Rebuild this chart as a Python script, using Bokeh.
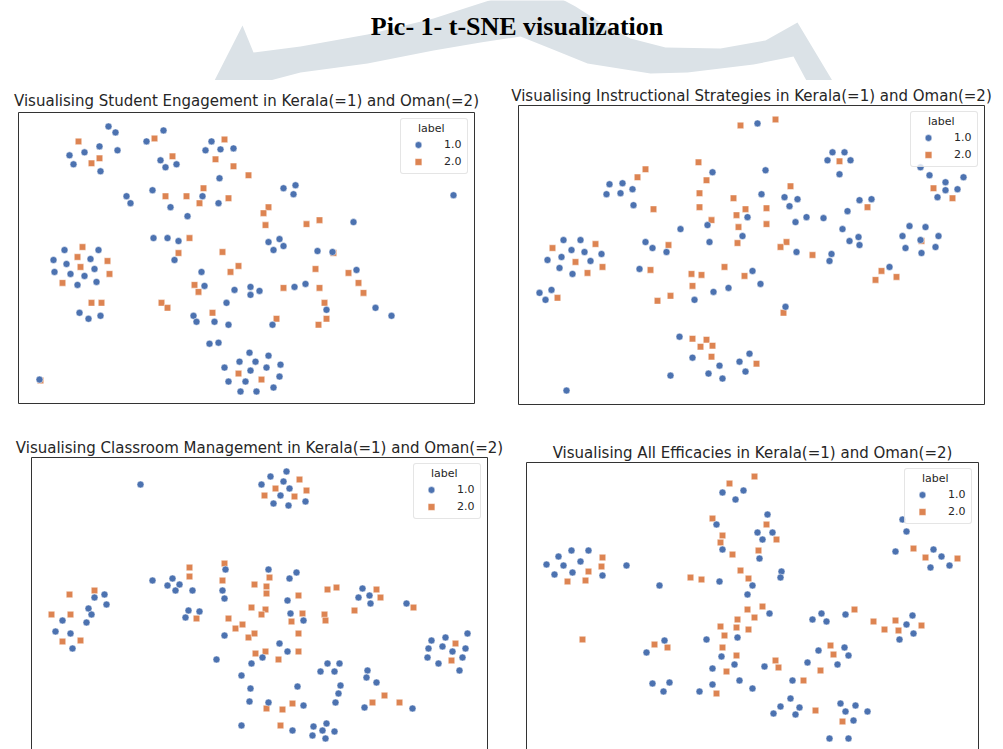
from bokeh.plotting import figure
from bokeh.models import Range1d, Legend, LegendItem, Label, LinearAxis, FixedTicker, Spacer
from bokeh.layouts import column, row
from bokeh.embed import file_html
from bokeh.resources import INLINE

MAIN_TITLE = "Pic- 1- t-SNE visualization"
LEGEND_TITLE = "label"
CLASS_LABELS = ["1.0", "2.0"]

# ---------------- Panel 1: Student Engagement ----------------
P1_TITLE = "Visualising Student Engagement in Kerala(=1) and Oman(=2)"
P1_KERALA_X = [90, 97, 81, 66, 99, 51, 55, 82, 145, 128, 142, 147, 158, 193, 187, 202, 215, 201,
               108, 112, 134, 152, 169, 184, 200, 135, 149, 160, 156, 46, 80, 35, 48, 72, 36, 52, 66, 76, 59, 78,
               61, 70, 82, 183, 186, 216, 208, 175, 178, 196, 210, 191, 200, 221, 206, 210, 222, 21,
               265, 277, 275, 435, 335, 250, 261, 255, 265, 299, 314, 338, 232, 232, 241, 276, 287, 308, 357, 373, 254,
               231, 250, 237, 262, 232, 248, 261, 227, 238, 255]
P1_KERALA_Y = [278, 272, 258, 252, 254, 249, 240, 233, 274, 263, 244, 237, 240, 263, 254, 255, 256, 226,
               208, 201, 214, 197, 188, 208, 201, 166, 166, 163, 144, 154, 154, 144, 140, 145, 132, 130, 128, 135, 119, 122,
               91, 85, 88, 132, 118, 114, 101, 88, 82, 82, 79, 60, 61, 42, 36, 22, 12, 24,
               216, 219, 210, 209, 182, 162, 165, 154, 158, 153, 152, 134, 117, 109, 113, 117, 120, 94, 96, 88, 79,
               51, 48, 42, 39, 33, 36, 27, 22, 12, 16]
P1_OMAN_X = [60, 81, 73, 136, 154, 206, 197, 215, 185, 147, 168, 181, 210, 171, 160, 204, 220, 212, 64, 59, 89, 62,
             91, 44, 73, 83, 176, 180, 143, 149, 194, 220, 22,
             230, 250, 245, 247, 288, 301, 297, 330, 340, 345, 265, 301, 306, 308, 300, 258, 243, 315]
P1_OMAN_Y = [263, 246, 241, 266, 248, 265, 245, 238, 216, 208, 208, 201, 206, 166, 151, 152, 138, 132, 157, 147, 143, 137,
             130, 121, 101, 101, 119, 112, 101, 96, 91, 30, 23,
             229, 197, 191, 179, 180, 184, 135, 131, 121, 111, 116, 116, 101, 85, 79, 85, 24, 151]

# ---------------- Panel 2: Instructional Strategies ----------------
P2_TITLE = "Visualising Instructional Strategies in Kerala(=1) and Oman(=2)"
P2_KERALA_X = [194, 91, 104, 88, 102, 114, 115, 162, 189, 224, 191, 127, 134, 148, 45, 62, 53, 66, 83, 43, 29, 72, 41, 54,
               121, 195, 210, 176, 21, 33, 27, 161, 174, 201, 190, 204, 152, 221, 227, 48,
               239, 314, 326, 309, 332, 321, 247, 243, 266, 279, 271, 229, 277, 288, 305, 329, 341, 353, 324, 331, 340, 341,
               278, 313, 311, 234, 242, 371, 391, 407, 384, 402, 420, 387, 403, 417, 402, 411, 427, 445, 427, 439, 419,
               267, 231]
P2_KERALA_Y = [233, 221, 222, 211, 212, 216, 200, 176, 180, 169, 163, 163, 157, 153, 165, 165, 155, 153, 151, 148, 145, 144,
               137, 131, 136, 113, 117, 105, 112, 115, 105, 68, 47, 39, 31, 26, 29, 43, 33, 14,
               282, 253, 253, 245, 245, 231, 235, 211, 208, 206, 199, 188, 183, 188, 187, 194, 205, 206, 176, 164, 168, 160,
               153, 151, 144, 134, 121, 138, 179, 178, 169, 165, 169, 157, 152, 158, 238, 230, 223, 228, 215, 216, 208,
               98, 51]
P2_OMAN_X = [222, 180, 127, 119, 188, 181, 135, 181, 193, 215, 227, 218, 220, 219, 150, 34, 77, 57, 84, 69, 39, 132, 173,
             183, 206, 226, 174, 152, 139, 174, 188, 182, 194, 193,
             257, 321, 272, 248, 248, 349, 268, 262, 294, 363, 357, 378, 403, 415, 434, 265, 238]
P2_OMAN_Y = [280, 243, 236, 228, 225, 212, 196, 198, 185, 207, 196, 190, 178, 162, 160, 157, 161, 143, 138, 132, 107, 135, 131,
             130, 138, 129, 119, 109, 104, 66, 65, 58, 59, 48,
             286, 244, 219, 197, 181, 198, 163, 158, 150, 134, 125, 128, 164, 217, 207, 92, 41]

# ---------------- Panel 3: Classroom Management ----------------
P3_TITLE = "Visualising Classroom Management in Kerala(=1) and Oman(=2)"
P3_KERALA_X = [109, 121, 141, 136, 148, 144, 161, 157, 154, 168, 194, 191, 193, 193, 185, 220, 210, 219, 218, 210,
               73, 63, 75, 57, 60, 55, 31, 24, 39, 41,
               255, 239, 252, 230, 258, 249, 242, 257, 274,
               237, 265, 258, 256, 259, 272, 331, 327, 338, 339, 375, 248, 256, 231, 296, 308, 289, 303, 336, 335, 345,
               309, 307, 304, 266, 237, 272, 333, 381, 261, 282, 295, 303, 281, 291, 294,
               436, 414, 400, 411, 397, 421, 434, 396, 407, 431, 428]
P3_KERALA_Y = [265, 169, 171, 164, 165, 159, 159, 139, 132, 138, 180, 159, 151, 114, 90, 86, 74, 61, 48, 24,
               155, 152, 145, 141, 135, 127, 129, 118, 116, 101,
               278, 273, 268, 265, 261, 254, 246, 244, 248,
               180, 177, 171, 149, 136, 129, 161, 152, 154, 146, 146, 106, 98, 92, 86, 86, 78, 78, 79, 72, 67,
               64, 56, 47, 63, 47, 44, 42, 41, 19, 23, 26, 18, 14, 19, 11,
               116, 112, 109, 103, 101, 98, 101, 92, 86, 92, 79]
P3_OMAN_X = [38, 63, 20, 39, 31, 49, 158, 158, 165, 193, 191, 223, 220, 197, 204, 211, 217, 223, 224,
             268, 244, 233, 263, 275, 238, 235, 235, 267, 234, 230, 271, 260, 293, 294, 267, 296, 305, 345, 349, 323, 382,
             234, 267, 247, 261, 251, 235, 341, 353, 368, 249, 424, 420]
P3_OMAN_Y = [155, 159, 135, 135, 108, 109, 182, 173, 131, 186, 169, 165, 142, 131, 121, 125, 112, 116, 96,
             270, 261, 254, 253, 259, 172, 163, 156, 154, 140, 135, 136, 128, 135, 129, 116, 160, 162, 160, 152, 139, 142,
             98, 98, 90, 46, 40, 41, 47, 54, 47, 24, 106, 89]

# ---------------- Panel 4: All Efficacies ----------------
P4_TITLE = "Visualising All Efficacies in Kerala(=1) and Oman(=2)"
P4_KERALA_X = [196, 217, 209, 190, 196, 45, 62, 32, 54, 20, 37, 100, 28, 46, 76, 193, 133, 221, 138, 120, 180, 211, 195,
               208, 186, 126, 143, 137, 173, 186, 213,
               241, 231, 236, 246, 233, 255, 254, 226, 243, 286, 295, 300, 319, 376, 380, 369, 407, 415, 404, 423,
               386, 380, 387, 373, 292, 318, 322, 311, 281, 266, 238, 226, 264, 254, 273, 247, 269, 314, 329, 319, 341,
               327, 303, 322]
P4_KERALA_Y = [257, 259, 250, 225, 200, 199, 199, 193, 188, 185, 184, 184, 175, 177, 174, 168, 164, 155, 109, 97, 110, 112, 93,
               85, 81, 66, 67, 58, 58, 65, 69,
               235, 217, 210, 217, 191, 178, 172, 164, 136, 130, 136, 128, 135, 230, 218, 198, 200, 193, 182, 184,
               134, 125, 116, 110, 99, 102, 94, 85, 87, 69, 83, 61, 51, 43, 42, 36, 35, 46, 44, 38, 38,
               29, 11, 11]
P4_OMAN_X = [203, 186, 196, 194, 206, 76, 75, 62, 41, 59, 164, 175, 214, 222, 221, 211, 194, 210, 222, 198, 196, 210, 200,
             190, 56, 128, 141,
             228, 240, 250, 232, 236, 228, 328, 347, 358, 369, 372, 395, 387, 399, 431, 304, 307, 294, 277, 289, 316,
             249, 252]
P4_OMAN_Y = [266, 231, 214, 207, 195, 192, 183, 178, 168, 169, 172, 170, 179, 171, 140, 130, 123, 122, 120, 114, 102, 94, 78,
             56, 110, 105, 102,
             273, 225, 210, 199, 143, 132, 140, 128, 120, 129, 119, 124, 201, 192, 191, 104, 95, 79, 69, 39, 28,
             89, 82]

# faded logo watermark (arch) behind the page heading, page pixel outline
WATERMARK_X = [213, 242, 253, 300, 367, 433, 470, 495, 560, 575, 600, 630, 665, 720, 765, 797, 833,
               807, 793, 753, 687, 650, 587, 550, 520, 480, 433, 367, 300, 262]
WATERMARK_Y = [82, 25, 52, 46, 34, 18, 6, -2, -2, 6, 22, 38, 47, 48, 40, 22, 82,
               82, 56, 64, 72, 73, 63, 48, 36, 42, 50, 63, 72, 82]

BLUE = "#4c72b0"
ORANGE = "#dd8452"
BORDER = "#333333"
TEXT = "#262626"

# common frame borders (equal for every panel so layout alignment is harmless)
BL, BR = 18, 19


def border_axis():
    return LinearAxis(ticker=FixedTicker(ticks=[]), axis_line_color=BORDER, axis_line_width=1,
                      major_tick_line_color=None, minor_tick_line_color=None,
                      major_tick_in=0, major_tick_out=0, minor_tick_in=0, minor_tick_out=0,
                      major_label_text_font_size="0px", major_label_standoff=0)


def make_panel(title, kx, ky, ox, oy, xr, yr, width, height, top, bottom, standoff, open_bottom):
    p = figure(width=width, height=height, x_range=Range1d(*xr), y_range=Range1d(*yr),
               output_backend="svg", toolbar_location=None,
               x_axis_location=None, y_axis_location=None,
               min_border_left=BL, min_border_right=BR,
               min_border_top=top, min_border_bottom=bottom)
    p.grid.visible = False
    p.background_fill_color = "white"
    p.border_fill_color = "white"
    p.title.text = title
    p.title.align = "center"
    p.title.text_font = "DejaVu Sans"
    p.title.text_font_size = "15px"
    p.title.text_font_style = "normal"
    p.title.text_color = TEXT
    p.title.standoff = standoff
    if open_bottom:
        p.outline_line_color = None
        p.add_layout(border_axis(), "above")
        p.add_layout(border_axis(), "left")
        p.add_layout(border_axis(), "right")
    else:
        p.outline_line_color = BORDER
        p.outline_line_width = 1

    r_oman = p.scatter(ox, oy, marker="square", size=6.5, fill_color=ORANGE,
                       line_color="white", line_width=0.5)
    r_kerala = p.scatter(kx, ky, marker="circle", size=7, fill_color=BLUE,
                         line_color="white", line_width=0.5)

    legend = Legend(items=[LegendItem(label=CLASS_LABELS[0], renderers=[r_kerala]),
                           LegendItem(label=CLASS_LABELS[1], renderers=[r_oman])],
                    title="\u00a0\u00a0\u00a0\u00a0" + LEGEND_TITLE,
                    location="top_right", margin=6, padding=3, spacing=0,
                    glyph_width=28, glyph_height=17, label_height=17, label_standoff=12,
                    label_text_font="DejaVu Sans", label_text_font_size="11px", label_text_color=TEXT,
                    title_text_font="DejaVu Sans", title_text_font_size="11px",
                    title_text_font_style="normal", title_text_color=TEXT, title_standoff=1,
                    border_line_color="#cccccc", border_line_width=1,
                    background_fill_color="white", background_fill_alpha=0.8)
    try:
        legend.border_radius = 3
    except Exception:
        pass
    p.add_layout(legend, "center")
    return p


# heading strip with watermark
header = figure(width=1003, height=80, x_range=Range1d(0, 1003), y_range=Range1d(80, 0),
                output_backend="svg", toolbar_location=None,
                x_axis_location=None, y_axis_location=None,
                min_border=0, outline_line_color=None)
header.grid.visible = False
header.patch(WATERMARK_X, WATERMARK_Y, fill_color="#dbe2e7", line_color=None)
header.add_layout(Label(x=516.5, y=26, text=MAIN_TITLE, text_align="center", text_baseline="middle",
                        text_font="Liberation Serif", text_font_style="bold", text_font_size="26px",
                        text_color="black"))

T1, B1 = 24, 16
T2 = 37
p1 = make_panel(P1_TITLE, P1_KERALA_X, P1_KERALA_Y, P1_OMAN_X, P1_OMAN_Y,
                (0, 456), (0, 292), BL + 456 + BR, T1 + 292 + B1, T1, B1, 5, False)
p1.margin = (7, 0, 0, 0)
p2 = make_panel(P2_TITLE, P2_KERALA_X, P2_KERALA_Y, P2_OMAN_X, P2_OMAN_Y,
                (0, 466), (0, 300), BL + 466 + BR, T1 + 300 + B1, T1, B1, 2, False)
p3 = make_panel(P3_TITLE, P3_KERALA_X, P3_KERALA_Y, P3_OMAN_X, P3_OMAN_Y,
                (0, 456), (0, 292), BL + 456 + BR, T2 + 292, T2, 0, 2, True)
p4 = make_panel(P4_TITLE, P4_KERALA_X, P4_KERALA_Y, P4_OMAN_X, P4_OMAN_Y,
                (0, 452), (0, 287), BL + 452 + BR, T2 + 287, T2, 0, 2, True)
p4.margin = (5, 0, 0, 0)

row1 = row(p1, Spacer(width=7, height=10), p2, spacing=0)
row2 = row(Spacer(width=13, height=10), p3, Spacer(width=2, height=10), p4, spacing=0)
layout = column(header, row1, row2, spacing=0)

open("out.html", "w").write(file_html(layout, INLINE))
